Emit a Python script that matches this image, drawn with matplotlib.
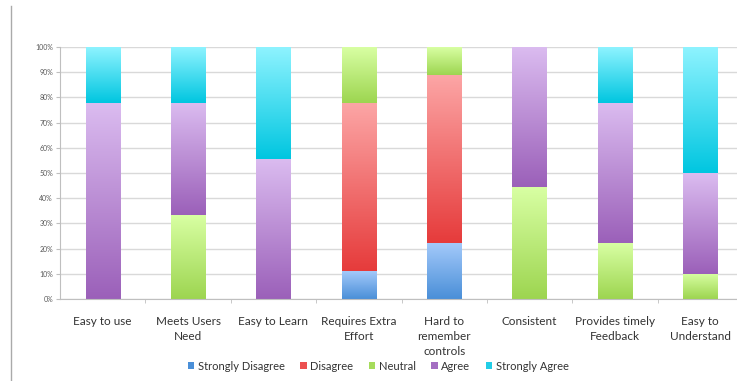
import numpy as np
import matplotlib.pyplot as plt
from matplotlib.colors import LinearSegmentedColormap
from matplotlib.lines import Line2D
from matplotlib.patches import Patch

# categories and percentages
categories = ['Easy to use', 'Meets Users\nNeed', 'Easy to Learn', 'Requires Extra\nEffort',
              'Hard to\nremember\ncontrols', 'Consistent', 'Provides timely\nFeedback', 'Easy to\nUnderstand']
levels = ['Strongly Disagree', 'Disagree', 'Neutral', 'Agree', 'Strongly Agree']

strongly_disagree = [0, 0, 0, 11.1, 22.2, 0, 0, 0]
disagree = [0, 0, 0, 66.7, 66.7, 0, 0, 0]
neutral = [0, 33.3, 0, 22.2, 11.1, 44.4, 22.2, 10.0]
agree = [77.8, 44.5, 55.6, 0, 0, 55.6, 55.6, 40.0]
strongly_agree = [22.2, 22.2, 44.4, 0, 0, 0, 22.2, 50.0]

series = [strongly_disagree, disagree, neutral, agree, strongly_agree]

# (top colour, bottom colour) for each gradient, plus legend swatch colour
gradients = [('#a3c9fa', '#4a8fd8'),
             ('#fca6a6', '#e63b3b'),
             ('#d8ffa3', '#9dd550'),
             ('#dbbcf0', '#9b60b9'),
             ('#8ef3ff', '#00c6e0')]
swatches = ['#4a8fd8', '#ec5050', '#a6dc5c', '#a46ec2', '#22cde6']

plt.rcParams['font.family'] = ['Lato', 'DejaVu Sans']

fig = plt.figure(figsize=(7.37, 3.81), dpi=100)
ax = fig.add_axes([60 / 737, 82 / 381, 683 / 737, 252 / 381])

x = np.arange(len(categories))
bottom = np.zeros(len(categories))
grad = np.linspace(1, 0, 256).reshape(-1, 1)

for vals, (top_c, bot_c) in zip(series, gradients):
    vals = np.array(vals, dtype=float)
    bars = ax.bar(x, vals, 0.4, bottom=bottom, color='none', edgecolor='none')
    cmap = LinearSegmentedColormap.from_list('g', [top_c, bot_c])
    for bar in bars:
        if bar.get_height() <= 0:
            continue
        x0, y0 = bar.get_x(), bar.get_y()
        im = ax.imshow(grad, cmap=cmap, aspect='auto', origin='lower',
                       extent=[x0, x0 + bar.get_width(), y0, y0 + bar.get_height()],
                       vmin=0, vmax=1, zorder=2)
        im.set_clip_path(bar)
    bottom += vals

ax.set_xlim(-0.5, 7.5)
ax.set_ylim(0, 100)
ax.set_yticks(np.arange(0, 101, 10))
ax.set_yticklabels([f'{v}%' for v in range(0, 101, 10)])
ax.yaxis.grid(True, color='#d9d9d9', linewidth=1)
ax.set_axisbelow(True)

ax.set_xticks(x)
ax.set_xticklabels(categories, fontsize=8.5, color='#333333', linespacing=1.45, va='top')
ax.set_xticks(np.arange(0.5, 7.5, 1), minor=True)
ax.tick_params(axis='x', which='major', length=0, pad=12)
ax.tick_params(axis='x', which='minor', length=3, color='#bfbfbf', direction='out')
ax.tick_params(axis='y', labelsize=5, labelcolor='#595959', length=3, color='#bfbfbf', pad=2)

for s in ['top', 'right']:
    ax.spines[s].set_visible(False)
for s in ['left', 'bottom']:
    ax.spines[s].set_color('#bfbfbf')

handles = [Patch(facecolor=c, edgecolor='none') for c in swatches]
fig.legend(handles, levels, loc='center', bbox_to_anchor=(378 / 737, 1 - 366 / 381),
           ncol=5, frameon=False, fontsize=8, handlelength=0.6, handleheight=0.6,
           handletextpad=0.3, columnspacing=1.4, labelcolor='#333333')

# slide border line on the left
fig.add_artist(Line2D([11 / 737, 11 / 737], [0, 1 - 6 / 381], color='#aaaaaa', linewidth=1))

fig.savefig('out.png', dpi=100)
